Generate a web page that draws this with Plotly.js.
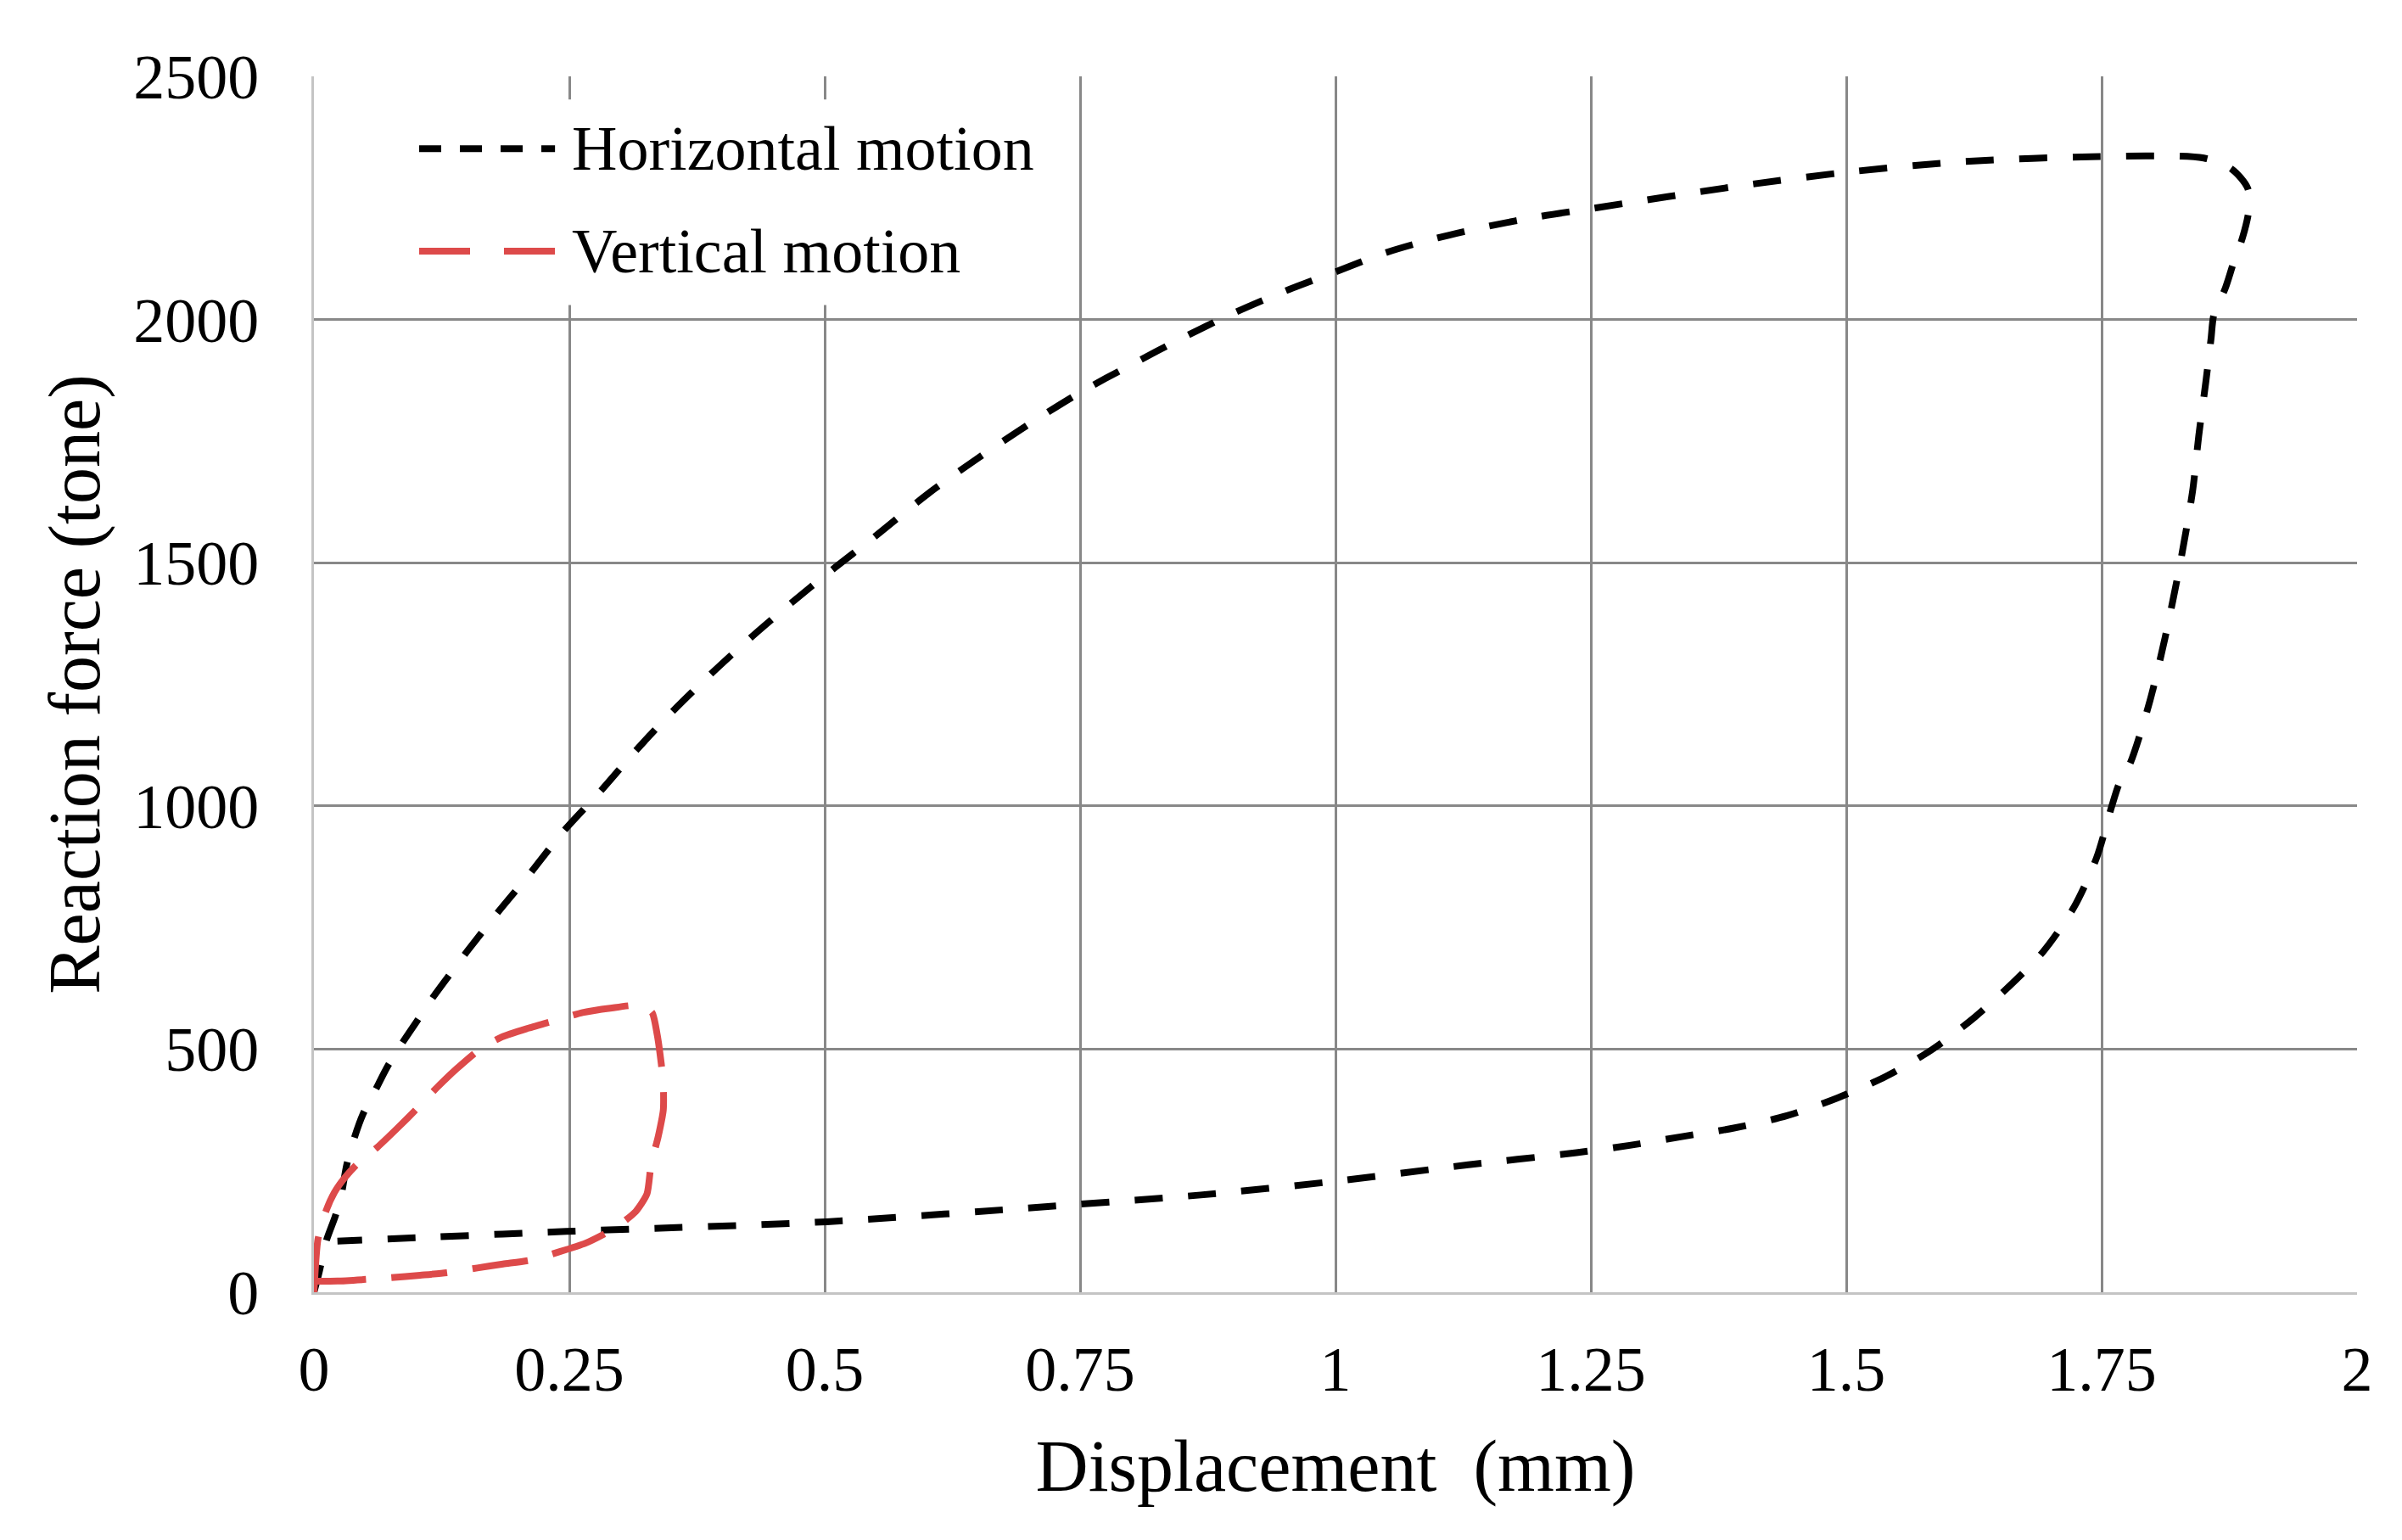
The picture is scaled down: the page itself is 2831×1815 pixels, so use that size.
<!DOCTYPE html>
<html>
<head>
<meta charset="utf-8">
<script src="https://cdn.plot.ly/plotly-3.0.1.min.js"></script>
<style>html,body{margin:0;padding:0;background:#fff;}#chart{width:2831px;height:1815px;}</style>
</head>
<body>
<div id="chart"></div>
<script>
// Horizontal motion loop (displacement mm, reaction force tone)
const horizX = [0, 0.005, 0.012, 0.021, 0.027, 0.032, 0.039, 0.048, 0.060, 0.072, 0.085, 0.101, 0.115, 0.130, 0.150, 0.180, 0.210, 0.244, 0.280, 0.314, 0.350, 0.388, 0.426, 0.466, 0.507, 0.548, 0.600, 0.650, 0.700, 0.750, 0.800, 0.850, 0.900, 0.950, 1.000, 1.050, 1.100, 1.150, 1.200, 1.250, 1.393, 1.505, 1.617, 1.748, 1.850, 1.877, 1.893, 1.894, 1.888, 1.879, 1.871, 1.860, 1.857, 1.852, 1.845, 1.839, 1.827, 1.812, 1.797, 1.778, 1.767, 1.760, 1.745, 1.723, 1.693, 1.663, 1.626, 1.584, 1.539, 1.492, 1.442, 1.391, 1.339, 1.288, 1.236, 1.130, 0.999, 0.868, 0.749, 0.502, 0.247, 0.100, 0.023];
const horizY = [0, 40, 105, 157, 203, 261, 314, 366, 415, 464, 508, 558, 602, 645, 701, 781, 857, 947, 1029, 1111, 1192, 1270, 1343, 1415, 1485, 1552, 1640, 1715, 1785, 1850, 1907, 1962, 2013, 2058, 2098, 2138, 2168, 2192, 2212, 2228, 2274, 2304, 2325, 2335, 2332, 2310, 2270, 2224, 2169, 2116, 2064, 2011, 1959, 1872, 1760, 1647, 1500, 1345, 1214, 1088, 1045, 1000, 893, 792, 701, 636, 566, 499, 444, 400, 363, 338, 320, 302, 287, 262, 228, 200, 181, 145, 125, 112, 105];

// Vertical motion loop
const vertX = [0, 0.004, 0.012, 0.020, 0.030, 0.042, 0.062, 0.082, 0.102, 0.120, 0.140, 0.162, 0.184, 0.210, 0.238, 0.263, 0.290, 0.320, 0.331, 0.336, 0.340, 0.342, 0.342, 0.337, 0.330, 0.326, 0.315, 0.300, 0.288, 0.266, 0.240, 0.212, 0.185, 0.160, 0.130, 0.104, 0.075, 0.048, 0.023, 0.003];
const vertY = [0, 110, 168, 205, 235, 263, 298, 338, 380, 420, 460, 499, 525, 543, 560, 575, 584, 590, 575, 530, 470, 429, 375, 320, 262, 202, 166, 140, 124, 101, 83, 66, 58, 50, 40, 35, 30, 26, 23, 23];

const seriesNames = ["Horizontal motion", "Vertical motion"];
const xTicks = [0, 0.25, 0.5, 0.75, 1, 1.25, 1.5, 1.75, 2];
const xTickText = ["0", "0.25", "0.5", "0.75", "1", "1.25", "1.5", "1.75", "2"];
const yTicks = [0, 500, 1000, 1500, 2000, 2500];
const yTickText = ["0", "500", "1000", "1500", "2000", "2500"];

const FONT = '"Liberation Serif", "Times New Roman", serif';
const BLACK_DASH = "33px,30px";
const RED_DASH = "66px,30px";
const RED = "#DD4A4A";

const traces = [
  {x: horizX, y: horizY, name: seriesNames[0], mode: "lines", type: "scatter",
   line: {color: "#000000", width: 8, dash: BLACK_DASH, shape: "spline", smoothing: 0.8}},
  {x: vertX, y: vertY, name: seriesNames[1], mode: "lines", type: "scatter",
   line: {color: RED, width: 8, dash: RED_DASH, shape: "spline", smoothing: 0.6}}
];

// legend drawn as shapes/annotations in paper coordinates
const legY = [0.9405, 0.8563];
const shapes = [
  {type: "rect", xref: "paper", yref: "paper", x0: 0.022, x1: 0.367, y0: 0.812, y1: 0.981,
   fillcolor: "#ffffff", line: {width: 0}, layer: "above"},
  {type: "line", xref: "paper", yref: "paper", x0: 0.0515, x1: 0.118, y0: legY[0], y1: legY[0],
   line: {color: "#000000", width: 8, dash: "26px,22px"}, layer: "above"},
  {type: "line", xref: "paper", yref: "paper", x0: 0.0515, x1: 0.1185, y0: legY[1], y1: legY[1],
   line: {color: RED, width: 8, dash: "60px,40px"}, layer: "above"}
];
const annotations = seriesNames.map((n, i) => ({
  xref: "paper", yref: "paper", x: 0.1254, y: legY[i], xanchor: "left", yanchor: "middle",
  text: n, showarrow: false, font: {family: FONT, size: 74, color: "#000000"}
}));

const layout = {
  width: 2831, height: 1815,
  margin: {l: 370, r: 53, t: 90, b: 292, pad: 0},
  paper_bgcolor: "#ffffff", plot_bgcolor: "#ffffff",
  showlegend: false,
  font: {family: FONT, color: "#000000"},
  xaxis: {
    range: [0, 2], tickmode: "array", tickvals: xTicks, ticktext: xTickText,
    showgrid: true, gridcolor: "#888888", gridwidth: 3, zeroline: false,
    showline: true, linecolor: "#c4c4c4", linewidth: 3, mirror: false,
    ticks: "", ticklabelstandoff: 24,
    tickfont: {family: FONT, size: 74, color: "#000000"},
    title: {text: "Displacement\u00a0 (mm)", font: {family: FONT, size: 86, color: "#000000"}, standoff: 44},
    automargin: false
  },
  yaxis: {
    range: [0, 2500], tickmode: "array", tickvals: yTicks, ticktext: yTickText,
    showgrid: true, gridcolor: "#888888", gridwidth: 3, zeroline: false,
    showline: true, linecolor: "#c4c4c4", linewidth: 3, mirror: false,
    ticks: "", ticklabelstandoff: 47,
    tickfont: {family: FONT, size: 74, color: "#000000"},
    title: {text: "Reaction force (tone)", font: {family: FONT, size: 86, color: "#000000"}, standoff: 12},
    automargin: false
  },
  shapes: shapes,
  annotations: annotations
};

Plotly.newPlot("chart", traces, layout, {staticPlot: true, displayModeBar: false});
</script>
</body>
</html>
